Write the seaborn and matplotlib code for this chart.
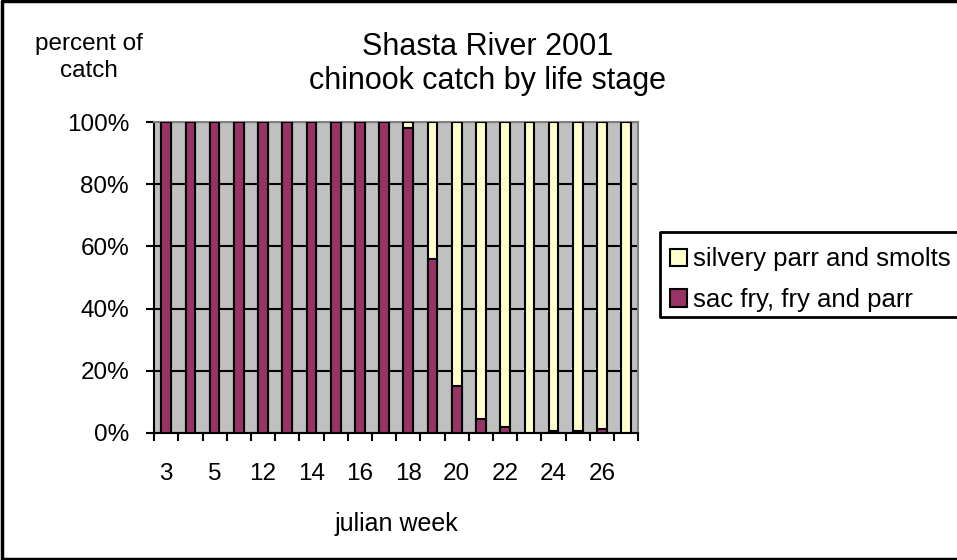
import numpy as np
import pandas as pd
import matplotlib
matplotlib.use("Agg")
import matplotlib.pyplot as plt
from matplotlib.patches import Patch
from matplotlib.lines import Line2D
import seaborn as sns

# data
weeks = ["3", "4", "5", "11", "12", "13", "14", "15", "16", "17",
         "18", "19", "20", "21", "22", "23", "24", "25", "26", "27"]
sac_fry = [100, 100, 100, 100, 100, 100, 100, 100, 100, 100,
           98, 56, 15, 4.5, 2, 0, 0.7, 0.7, 1.3, 0]
silvery = [100 - v for v in sac_fry]

df = pd.DataFrame({"week": weeks, "sac": sac_fry, "silvery": silvery})
df["total"] = df["sac"] + df["silvery"]

sns.set_style("white")
plt.rcParams["font.family"] = ["Liberation Sans", "DejaVu Sans"]
plt.rcParams["text.color"] = "black"
plt.rcParams["xtick.color"] = "black"
plt.rcParams["ytick.color"] = "black"
plt.rcParams["axes.labelcolor"] = "black"

maroon = "#993366"
yellow = "#FFFFCC"

fig = plt.figure(figsize=(9.57, 5.60), dpi=100)
ax = fig.add_axes([0.161, 0.227, 0.506, 0.555])
ax.set_facecolor("#C0C0C0")

sns.barplot(data=df, x="week", y="total", order=weeks, color=yellow,
            width=0.4, edgecolor="black", linewidth=1.5, saturation=1, ax=ax, zorder=3)
sns.barplot(data=df, x="week", y="sac", order=weeks, color=maroon,
            width=0.4, edgecolor="black", linewidth=1.5, saturation=1, ax=ax, zorder=4)

ax.set_ylim(0, 100)
ax.set_xlim(-0.5, len(weeks) - 0.5)
ax.set_yticks(np.arange(0, 101, 20))
ax.set_yticklabels([f"{v}%" for v in range(0, 101, 20)], fontsize=17.5)
ax.yaxis.grid(True, color="black", linewidth=1.5, zorder=1)
ax.set_axisbelow(True)

# major ticks between categories, labels on every other category
ax.set_xticks(np.arange(-0.5, len(weeks), 1))
ax.set_xticklabels([])
ax.set_xticks(np.arange(0, len(weeks), 2), minor=True)
ax.set_xticklabels(weeks[::2], minor=True, fontsize=17.5)
ax.tick_params(axis="x", which="major", length=6, width=1.5, direction="out", bottom=True)
ax.tick_params(axis="x", which="minor", length=0, pad=22)
ax.tick_params(axis="y", length=6, width=1.5, direction="out", left=True, pad=12)

for s in ["left", "bottom"]:
    ax.spines[s].set_color("black")
    ax.spines[s].set_linewidth(1.5)
for s in ["top", "right"]:
    ax.spines[s].set_color("#808080")
    ax.spines[s].set_linewidth(1.5)

ax.set_xlabel("julian week", fontsize=18, labelpad=19)
ax.set_ylabel("")

fig.text(0.5095, 0.886, "Shasta River 2001\nchinook catch by life stage",
         ha="center", va="center", fontsize=22, linespacing=1.2)
fig.text(0.0925, 0.898, "percent of\ncatch", ha="center", va="center",
         fontsize=17.5, linespacing=1.3)

handles = [Patch(facecolor=yellow, edgecolor="black", linewidth=1.5, label="silvery parr and smolts"),
           Patch(facecolor=maroon, edgecolor="black", linewidth=1.5, label="sac fry, fry and parr")]
leg = fig.legend(handles=handles, loc="upper left",
                 bbox_to_anchor=(0.6855, 0.5836),
                 fontsize=18.5, frameon=False, handlelength=0.65, handleheight=0.65,
                 handletextpad=0.25, borderpad=0.55, labelspacing=0.65, borderaxespad=0)

# legend box runs off the right edge: only left, top and bottom sides show
fig.add_artist(Line2D([1.0, 0.6897, 0.6897, 1.0], [0.5857, 0.5857, 0.4339, 0.4339],
                      transform=fig.transFigure, color="black", linewidth=2))

# chart border (right side cut off in the reference)
fig.add_artist(Line2D([1.0, 0.002, 0.002, 1.0], [0.998, 0.998, 0.002, 0.002],
                      transform=fig.transFigure, color="black", linewidth=2.5))

fig.savefig("out.png", dpi=100)
